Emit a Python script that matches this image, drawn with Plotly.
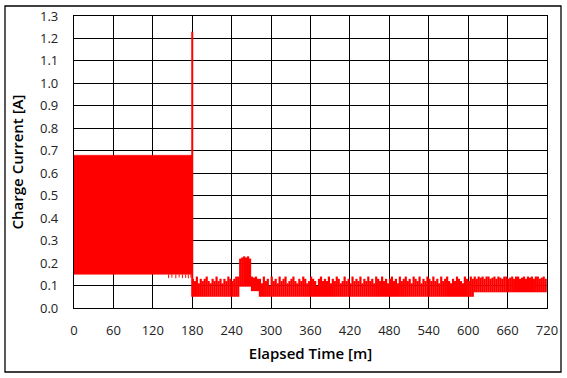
import plotly.graph_objects as go

# ---------------- data ----------------
# Phase 1: dense oscillation 0-180 min, envelope
block_t = [0, 180]
block_hi = [0.68, 0.68]
block_lo = [0.15, 0.15]
# occasional downward excursions near the end of phase 1
dip_t = [144, 149, 155, 160, 165, 170, 174, 178]
dip_lo = [0.133, 0.135, 0.132, 0.136, 0.133, 0.134, 0.132, 0.135]

# transient peak at the switch-over
peak_t = 180
peak_val = 1.23

# Phase 2: 180-720 min, per-3-minute bins starting at 181 min (max of each bin)
bin_start = 181
bin_step = 3
hi2 = [
    # 181-247
    0.13, 0.12, 0.14, 0.11, 0.13, 0.12, 0.13, 0.14, 0.12, 0.11, 0.13, 0.12,
    0.14, 0.12, 0.13, 0.11, 0.13, 0.12, 0.14, 0.13, 0.12, 0.13, 0.14,
    # 250
    0.14,
    # 253-268 bump
    0.22, 0.225, 0.23, 0.225, 0.23, 0.22,
    # 271-280
    0.14, 0.135, 0.14, 0.13,
    # 283-607
    0.13, 0.11, 0.14, 0.12, 0.13, 0.10, 0.14, 0.12, 0.13, 0.11, 0.14,
    0.12, 0.13, 0.14, 0.11, 0.12, 0.13, 0.14, 0.12, 0.11, 0.13, 0.12,
    0.14, 0.13, 0.11, 0.12, 0.14, 0.13, 0.12, 0.10, 0.13, 0.14, 0.12,
    0.13, 0.12, 0.14, 0.11, 0.13, 0.12, 0.14, 0.13, 0.11, 0.12, 0.14,
    0.12, 0.13, 0.11, 0.14, 0.12, 0.13, 0.12, 0.14, 0.11, 0.13, 0.12,
    0.14, 0.12, 0.13, 0.11, 0.14, 0.13, 0.12, 0.14, 0.12, 0.13, 0.11,
    0.13, 0.14, 0.12, 0.13, 0.11, 0.14, 0.12, 0.13, 0.14, 0.12, 0.13,
    0.11, 0.14, 0.13, 0.12, 0.14, 0.11, 0.13, 0.12, 0.14, 0.13, 0.12,
    0.14, 0.12, 0.13, 0.11, 0.14, 0.12, 0.13, 0.14, 0.12, 0.11, 0.13,
    0.12, 0.14, 0.13, 0.12, 0.11, 0.14, 0.13, 0.12, 0.14, 0.13,
    # 610-718
    0.14, 0.13, 0.14, 0.135, 0.14, 0.13, 0.14, 0.14, 0.13, 0.135,
    0.14, 0.13, 0.14, 0.135, 0.13, 0.14, 0.14, 0.13, 0.135, 0.14,
    0.13, 0.14, 0.14, 0.13, 0.135, 0.14, 0.13, 0.14, 0.135, 0.14,
    0.13, 0.14, 0.14, 0.13, 0.135, 0.14, 0.13,
]
# minimum level of each bin, by segment (segment start minute -> min value)
seg_start = [181, 253, 271, 283, 610]
seg_lo = [0.05, 0.095, 0.075, 0.05, 0.07]

x_ticks = [0, 60, 120, 180, 240, 300, 360, 420, 480, 540, 600, 660, 720]
y_ticks = [0.0, 0.1, 0.2, 0.3, 0.4, 0.5, 0.6, 0.7, 0.8, 0.9, 1.0, 1.1, 1.2, 1.3]

RED = "#FF0000"

# ---------------- figure ----------------
fig = go.Figure()

# phase 1 envelope
fig.add_trace(go.Scatter(
    x=block_t + block_t[::-1], y=block_lo + block_hi[::-1],
    fill="toself", fillcolor=RED, mode="lines", line=dict(color=RED, width=0.5),
    hoverinfo="skip", showlegend=False))

# phase 1 dips
dx, dy = [], []
for t, v in zip(dip_t, dip_lo):
    dx += [t, t, None]
    dy += [block_lo[0], v, None]
fig.add_trace(go.Scatter(x=dx, y=dy, mode="lines", line=dict(color=RED, width=1),
                         hoverinfo="skip", showlegend=False))

# phase 2 bins
px, py = [], []
for i, h in enumerate(hi2):
    t = bin_start + bin_step * i
    lo = seg_lo[0]
    for s, l in zip(seg_start, seg_lo):
        if t >= s:
            lo = l
    px += [t, t, None]
    py += [lo, h, None]
fig.add_trace(go.Scatter(x=px, y=py, mode="lines", line=dict(color=RED, width=2.2),
                         hoverinfo="skip", showlegend=False))

# switch-over peak
fig.add_trace(go.Scatter(x=[peak_t, peak_t], y=[0.05, peak_val], mode="lines",
                         line=dict(color=RED, width=2), hoverinfo="skip", showlegend=False))

FONT = "Open Sans"
axis_common = dict(
    showgrid=True, gridcolor="black", gridwidth=1,
    showline=True, linecolor="black", linewidth=1.3, mirror=True,
    zeroline=False, ticks="",
    tickfont=dict(family=FONT, size=13, color="#222222"),
)

fig.update_xaxes(
    range=[0, 720], tickvals=x_ticks, ticktext=[str(v) for v in x_ticks],
    ticklabelstandoff=10,
    title=dict(text="Elapsed Time [m]", font=dict(family=FONT, size=15, color="black", weight=600),
               standoff=10),
    **axis_common)
fig.update_yaxes(
    range=[0, 1.3], tickvals=y_ticks, ticktext=[f"{v:.1f}" for v in y_ticks],
    ticklabelstandoff=12,
    title=dict(text="Charge Current [A]", font=dict(family=FONT, size=15, color="black", weight=600),
               standoff=12),
    **axis_common)

# outer frame of the chart area
fig.add_shape(type="rect", xref="paper", yref="paper",
              x0=(5 - 74) / 473, x1=(561 - 74) / 473,
              y0=(308 - 372) / 292, y1=(308 - 6) / 292,
              line=dict(color="black", width=1.3), layer="below")

fig.update_layout(
    width=567, height=378,
    margin=dict(l=74, r=20, t=16, b=70, autoexpand=False),
    plot_bgcolor="white", paper_bgcolor="white",
    showlegend=False,
)

fig.write_html("out.html")
